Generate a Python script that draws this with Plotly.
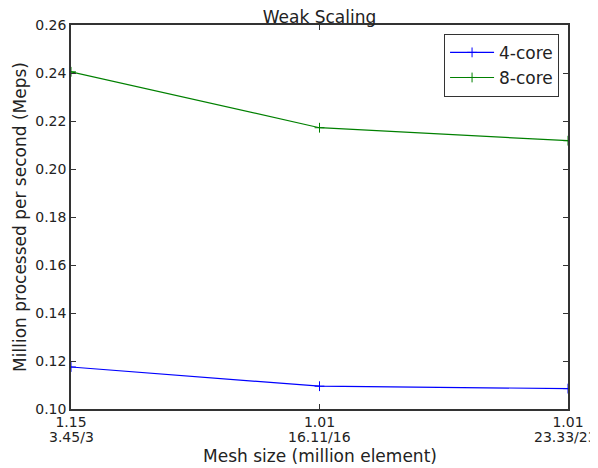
import plotly.graph_objects as go

tick_top = ["1.15", "1.01", "1.01"]
tick_bottom = ["3.45/3", "16.11/16", "23.33/23"]
x_pos = [0, 1, 2]
core4 = [0.1175, 0.1095, 0.1085]
core8 = [0.2405, 0.2172, 0.2118]
y_ticks = [0.10, 0.12, 0.14, 0.16, 0.18, 0.20, 0.22, 0.24, 0.26]

fig = go.Figure()
fig.add_trace(go.Scatter(x=x_pos, y=core4, mode="lines+markers", name="4-core",
                         line=dict(color="#0000ff", width=1.2),
                         marker=dict(symbol="cross-thin", size=7, line=dict(color="#0000ff", width=1))))
fig.add_trace(go.Scatter(x=x_pos, y=core8, mode="lines+markers", name="8-core",
                         line=dict(color="#008000", width=1.2),
                         marker=dict(symbol="cross-thin", size=7, line=dict(color="#008000", width=1))))

font = "DejaVu Sans"
annotations = []
for i, (xv, txt) in enumerate(zip(x_pos, tick_bottom)):
    annotations.append(dict(x=xv, xref="x", y=-0.0729, yref="paper", text=txt, showarrow=False,
                            xanchor="center", yanchor="middle",
                            xshift=-3 if i == len(x_pos) - 1 else 0,
                            font=dict(size=14, color="#222")))
annotations.append(dict(x=0.5, xref="paper", y=-0.1224, yref="paper", text="Mesh size (million element)",
                        showarrow=False, xanchor="center", yanchor="middle",
                        font=dict(size=17, color="#222")))

# page body has an 8px margin, so the figure is sized/offset to compensate
fig.update_layout(
    width=590, height=460,
    margin=dict(l=63, r=30, t=17, b=59),
    paper_bgcolor="white", plot_bgcolor="white",
    font=dict(family=font, size=14, color="#222"),
    title=dict(text="Weak Scaling", x=0.5, xref="paper", xanchor="center", y=1, yref="paper",
               yanchor="bottom", pad=dict(b=2), font=dict(size=17, color="#222")),
    showlegend=True,
    legend=dict(x=0.982, y=0.977, xanchor="right", yanchor="top", bgcolor="white",
                bordercolor="#333", borderwidth=1, font=dict(size=17, color="#222"),
                itemwidth=44, tracegroupgap=0),
    annotations=annotations,
)
fig.update_xaxes(range=[0, 2], tickvals=x_pos, ticktext=tick_top, automargin=False,
                 showline=True, linecolor="#333", linewidth=1.5, mirror="ticks",
                 ticks="inside", ticklen=5, tickcolor="#333", showgrid=False, zeroline=False,
                 ticklabelstandoff=-1)
fig.update_yaxes(range=[0.10, 0.26], tickvals=y_ticks, tickformat=".2f", automargin=False,
                 showline=True, linecolor="#333", linewidth=1.5, mirror="ticks",
                 ticks="inside", ticklen=5, tickcolor="#333", showgrid=False, zeroline=False,
                 title=dict(text="Million processed per second (Meps)", font=dict(size=17), standoff=4))

fig.write_html("out.html")
